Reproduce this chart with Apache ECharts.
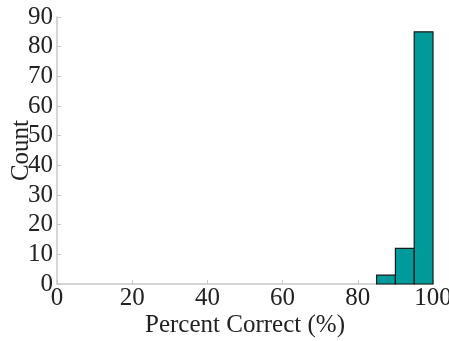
<!DOCTYPE html>
<html>
<head>
<meta charset="utf-8">
<script src="https://cdn.jsdelivr.net/npm/echarts@6/dist/echarts.min.js"></script>
<style>
  html, body { margin: 0; padding: 0; background: #fff; }
  #chart { width: 449px; height: 341px; }
</style>
</head>
<body>
<div id="chart"></div>
<script>
// histogram bins (percent correct) and counts
var binStarts = [85, 90, 95];
var binEnds = [90, 95, 100];
var counts = [3, 12, 85];

var font = "'Liberation Serif', 'DejaVu Serif', serif";

var data = [];
for (var i = 0; i < counts.length; i++) {
    data.push([binStarts[i], binEnds[i], counts[i]]);
}

var myChart = echarts.init(document.getElementById('chart'));
var option = {
    animation: false,
    grid: { left: 57, right: 16, top: 17, bottom: 57, containLabel: false, outerBoundsMode: 'none' },
    xAxis: {
        type: 'value',
        min: 0, max: 100, interval: 20,
        name: 'Percent Correct (%)',
        nameLocation: 'middle',
        nameGap: 29,
        nameMoveOverlap: false,
        nameTextStyle: { fontFamily: font, fontSize: 25, color: '#222' },
        axisLine: { lineStyle: { color: '#c8c8c8', width: 1.5 } },
        axisTick: { show: true, inside: true, length: 4, lineStyle: { color: '#c8c8c8' } },
        axisLabel: { fontFamily: font, fontSize: 25, color: '#222', margin: 2 },
        splitLine: { show: false }
    },
    yAxis: {
        type: 'value',
        min: 0, max: 90, interval: 10,
        name: 'Count',
        nameLocation: 'middle',
        nameGap: 23,
        nameMoveOverlap: false,
        nameTextStyle: { fontFamily: font, fontSize: 25, color: '#222' },
        axisLine: { show: true, lineStyle: { color: '#c8c8c8', width: 1.5 } },
        axisTick: { show: true, inside: true, length: 4, lineStyle: { color: '#c8c8c8' } },
        axisLabel: { fontFamily: font, fontSize: 25, color: '#222', margin: 4 },
        splitLine: { show: false }
    },
    series: [{
        type: 'custom',
        data: data,
        encode: { x: [0, 1], y: 2 },
        renderItem: function (params, api) {
            var p0 = api.coord([api.value(0), api.value(2)]);
            var p1 = api.coord([api.value(1), 0]);
            return {
                type: 'rect',
                shape: { x: p0[0], y: p0[1], width: p1[0] - p0[0], height: p1[1] - p0[1] },
                style: { fill: '#009a9a', stroke: '#1a1a1a', lineWidth: 1.2 }
            };
        }
    }]
};
myChart.setOption(option);
</script>
</body>
</html>
